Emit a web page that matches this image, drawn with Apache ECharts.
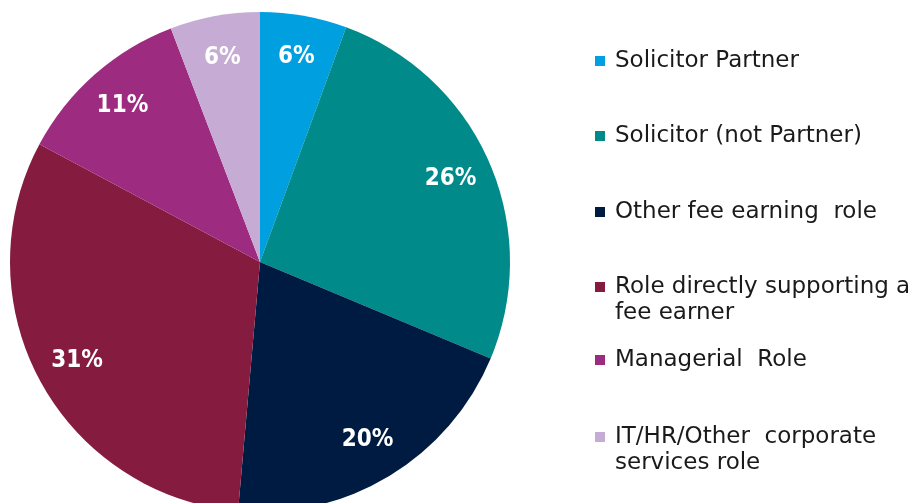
<!DOCTYPE html>
<html>
<head>
<meta charset="utf-8">
<script src="https://cdn.jsdelivr.net/npm/echarts@6/dist/echarts.min.js"></script>
<style>
  html, body { margin: 0; padding: 0; background: #fff; }
  #chart { width: 918px; height: 503px; }
</style>
</head>
<body>
<div id="chart"></div>
<script>
// share of staff by role (%)
const roles = [
  'Solicitor Partner',
  'Solicitor (not Partner)',
  'Other fee earning role',
  'Role directly supporting a fee earner',
  'Managerial Role',
  'IT/HR/Other corporate services role'
];
const shares = [5.6, 25.7, 20.1, 31.4, 11.4, 5.8];
const roleColors = ['#009fdf', '#008a89', '#001b41', '#851c40', '#9d2b80', '#c6acd5'];
// how the legend text wraps
const legendText = [
  'Solicitor Partner',
  'Solicitor (not Partner)',
  'Other fee earning  role',
  'Role directly supporting a\nfee earner',
  'Managerial  Role',
  'IT/HR/Other  corporate\nservices role'
];

const chart = echarts.init(document.getElementById('chart'));

const pieData = roles.map((name, i) => ({
  name: name,
  value: shares[i],
  itemStyle: { color: roleColors[i] }
}));

// one legend per entry so the vertical spacing can follow the picture
const legendCenters = [61, 136, 212, 287, 360, 437];
const legends = roles.map((name, i) => {
  const twoLines = legendText[i].indexOf('\n') >= 0;
  // an empty first line keeps the marker level with the first text line
  const text = twoLines ? '\n' + legendText[i] : legendText[i];
  return {
    orient: 'vertical',
    left: 595,
    top: twoLines ? legendCenters[i] - 39 : legendCenters[i] - 13,
    padding: 0,
    itemWidth: 10,
    itemHeight: 10,
    itemGap: 0,
    icon: 'rect',
    selectedMode: false,
    data: [name],
    formatter: () => text,
    textStyle: {
      fontFamily: 'DejaVu Sans',
      fontSize: 23,
      color: '#1a1a1a',
      lineHeight: 26,
      padding: [0, 0, 0, 5]
    }
  };
});

chart.setOption({
  backgroundColor: '#fff',
  animation: false,
  legend: legends,
  series: [
    {
      type: 'pie',
      center: [260, 262],
      radius: [0, 250],
      startAngle: 90,
      clockwise: true,
      silent: true,
      data: pieData,
      label: { show: false },
      labelLine: { show: false }
    },
    {
      // transparent ring that only carries the percentage labels
      type: 'pie',
      center: [260, 262],
      radius: [160, 250],
      startAngle: 90,
      clockwise: true,
      silent: true,
      percentPrecision: 0,
      data: roles.map((name, i) => ({ name: name, value: shares[i] })),
      itemStyle: { color: 'rgba(0,0,0,0)' },
      label: {
        show: true,
        position: 'inside',
        formatter: '{d}%',
        color: '#fff',
        fontFamily: "'Liberation Sans Narrow', 'DejaVu Sans Condensed', sans-serif",
        fontWeight: 'bold',
        fontSize: 24
      },
      labelLine: { show: false }
    }
  ]
});
</script>
</body>
</html>
